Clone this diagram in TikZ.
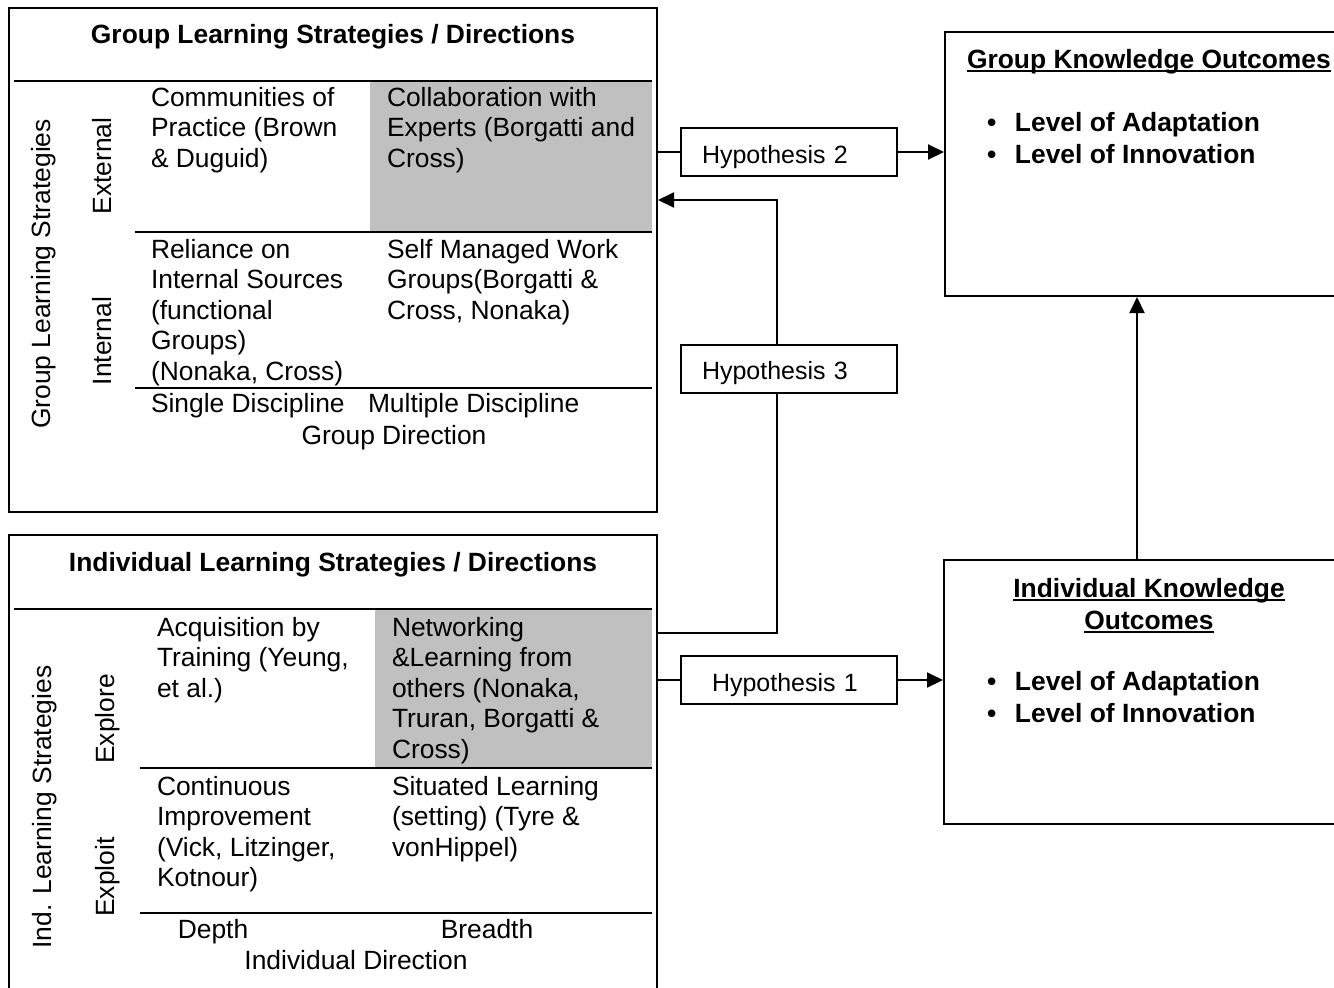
\documentclass[tikz,border=0pt]{standalone}
\usepackage{fontspec}
\setmainfont{Liberation Sans}
\usetikzlibrary{arrows.meta}
\definecolor{cellgrey}{RGB}{192,192,192}
\newcommand{\celltext}{\fontsize{13.2}{15.25}\selectfont}
\newcommand{\hyptext}{\fontsize{12.5}{15}\selectfont}
\newsavebox{\ulsave}
\newcommand{\ulbox}[1]{\sbox{\ulsave}{#1}\rlap{\rule[-2pt]{\wd\ulsave}{1pt}}\usebox{\ulsave}}
\newcommand{\bul}[1]{\makebox[14pt][l]{\textbullet}#1}

\begin{document}
\begin{tikzpicture}[x=0.5pt, y=-0.5pt, line width=1pt,
	frame/.style={draw, inner sep=0pt},
	hyp/.style={draw, minimum width=108pt, minimum height=24pt, text width=87pt, inner xsep=10.5pt, inner ysep=0pt, align=left, text height=11pt, text depth=0pt, font=\hyptext},
	cell/.style={anchor=north west, inner sep=0pt, align=left, font=\celltext},
	sidelab/.style={rotate=90, inner sep=0pt, font=\celltext},
	head/.style={anchor=north, inner sep=0pt, font={\fontsize{13.2}{16}\selectfont\bfseries}},
	outcome/.style={anchor=north west, inner sep=0pt, align=left, font={\fontsize{13.2}{16}\selectfont\bfseries}},
	arr/.style={-{Triangle[length=8pt,width=7.5pt]}}]
	\useasboundingbox (0,0) rectangle (1334,987);
	\fill[cellgrey] (370,81) rectangle (652,232);
	\fill[cellgrey] (375,609) rectangle (652,768);
	\node[frame, minimum width=324.25pt, minimum height=252pt] (grpbox) at (332.75,260) {};
	\node[frame, minimum width=324.25pt, minimum height=232.5pt] (indbox) at (332.75,767.5) {};
	\node[frame, minimum width=202.5pt, minimum height=132pt] (gkobox) at (1147.5,164) {};
	\node[frame, minimum width=203pt, minimum height=132pt] (ikobox) at (1147,692) {};
	\draw (14,81) -- (652,81);
	\draw (135,232) -- (652,232);
	\draw (135,388) -- (652,388);
	\draw (14,609) -- (652,609);
	\draw (140,768) -- (652,768);
	\draw (140,913) -- (652,913);

	\node[head] (grptitle) at (333,23) {Group Learning Strategies / Directions};
	\node[sidelab] (gls) at (44,274) {Group Learning Strategies};
	\node[sidelab] (external) at (102,166) {External};
	\node[sidelab] (internal) at (102,341) {Internal};
	\node[cell] (cop) at (150,86) {Communities of\\Practice (Brown\\\& Duguid)};
	\node[cell] (collab) at (386,86) {Collaboration with\\Experts (Borgatti and\\Cross)};
	\node[cell] (rely) at (150,238) {Reliance on\\Internal Sources\\(functional\\Groups)\\(Nonaka, Cross)};
	\node[cell] (selfm) at (386,238) {Self Managed Work\\Groups(Borgatti \&\\Cross, Nonaka)};
	\node[cell] (single) at (150,392) {Single Discipline};
	\node[cell] (multi) at (367,392) {Multiple Discipline};
	\node[cell, anchor=north] (gdir) at (394,424) {Group Direction};

	\node[head] (indtitle) at (333,551) {Individual Learning Strategies / Directions};
	\node[sidelab] (ils) at (44.5,807) {Ind. Learning Strategies};
	\node[sidelab] (explore) at (108,719) {Explore};
	\node[sidelab] (exploit) at (108,877) {Exploit};
	\node[cell] (acq) at (156,616) {Acquisition by\\Training (Yeung,\\et al.)};
	\node[cell] (netw) at (391,616) {Networking\\\&Learning from\\others (Nonaka,\\Truran, Borgatti \&\\Cross)};
	\node[cell] (cont) at (156,775) {Continuous\\Improvement\\(Vick, Litzinger,\\Kotnour)};
	\node[cell] (situ) at (391,775) {Situated Learning\\(setting) (Tyre \&\\vonHippel)};
	\node[cell, anchor=north] (depth) at (213,918) {Depth};
	\node[cell, anchor=north] (breadth) at (487,918) {Breadth};
	\node[cell, anchor=north] (idir) at (356,949) {Individual Direction};

	\node[head, anchor=north west] (gkotitle) at (966,48) {\ulbox{Group Knowledge Outcomes}};
	\node[outcome] (gkolist) at (986,111) {\bul{Level of Adaptation}\\\bul{Level of Innovation}};
	\node[head, align=center] (ikotitle) at (1149,577) {\ulbox{Individual Knowledge}\\\ulbox{Outcomes}};
	\node[outcome] (ikolist) at (986,670) {\bul{Level of Adaptation}\\\bul{Level of Innovation}};

	\node[hyp] (h2) at (789,152) {Hypothesis 2};
	\node[hyp] (h3) at (789,368.5) {Hypothesis 3};
	\node[hyp] (h1) at (789,680) {\hspace*{5pt}Hypothesis 1};

	\coordinate (bendlow) at (777,633);
	\coordinate (bendup) at (777,200);
	\coordinate (riser) at (1137,430);
	\draw (grpbox.east |- h2.west) -- (h2.west);
	\draw[arr] (h2.east) -- (gkobox.west |- h2.east);
	\draw (indbox.east |- bendlow) -- (bendlow) -- (h3.south -| bendlow);
	\draw[arr] (h3.north -| bendup) -- (bendup) -- (grpbox.east |- bendup);
	\draw (indbox.east |- h1.west) -- (h1.west);
	\draw[arr] (h1.east) -- (ikobox.west |- h1.east);
	\draw[arr] (ikobox.north -| riser) -- (gkobox.south -| riser);
\end{tikzpicture}
\end{document}
